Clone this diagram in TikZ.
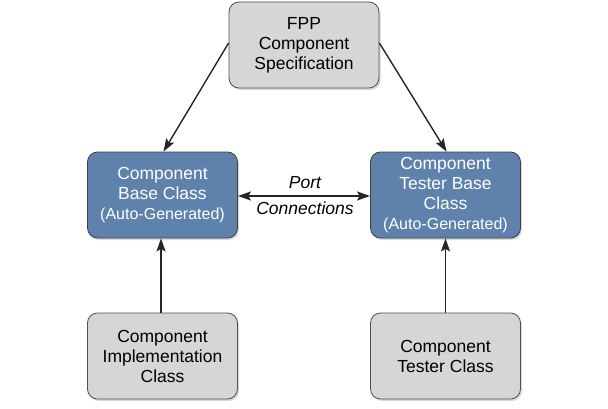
\documentclass[tikz,border=0pt]{standalone}
\usepackage{fontspec}
\setmainfont{Liberation Sans}
\usetikzlibrary{arrows.meta,shadows}
\definecolor{boxgray}{HTML}{D6D6D6}
\definecolor{boxblue}{HTML}{5F82AD}
\definecolor{edgegray}{HTML}{505050}
\tikzset{
  basebox/.style={rounded corners=10pt, draw=edgegray, line width=0.8pt,
    minimum width=150pt, minimum height=86pt, align=center,
    font=\fontsize{17.5}{20}\selectfont,
    drop shadow={opacity=0.3, shadow xshift=1.5pt, shadow yshift=-2pt}},
  graybox/.style={basebox, fill=boxgray, text=black},
  bluebox/.style={basebox, fill=boxblue, text=white, draw=black!75},
  tip/.style={Stealth[length=13pt,width=9pt,inset=2.5pt]},
  conn/.style={line width=1.4pt, draw=black!85, -{Stealth[length=13pt,width=9pt,inset=2.5pt]}},
  lbl/.style={font=\fontsize{17.5}{19.5}\selectfont\itshape, inner sep=0pt}
}
\begin{document}
\begin{tikzpicture}[x=1pt,y=1pt]
\useasboundingbox (0,0) rectangle (608,408);
\node[graybox] (fpp) at (304,363) {FPP\\Component\\Specification};
\node[bluebox] (cb) at (162.5,213) {Component\\Base Class\\{\fontsize{16}{19}\selectfont (Auto-Generated)}};
\node[bluebox] (ctb) at (445.5,213) {Component\\Tester Base\\Class\\{\fontsize{16}{19}\selectfont (Auto-Generated)}};
\node[graybox] (ci) at (162.5,52) {Component\\Implementation\\Class};
\node[graybox] (ct) at (445.5,52) {Component\\Tester Class};
\coordinate (fppl) at ([yshift=2pt]fpp.west);
\coordinate (fppr) at ([yshift=2pt]fpp.east);
\draw[conn] (fppl) -- ([xshift=1pt]cb.north);
\draw[conn] (fppr) -- ([xshift=1pt]ctb.north);
\draw[conn] ([xshift=-1.5pt]ci.north) -- ([xshift=-1.5pt]cb.south);
\draw[conn] (ct.north) -- (ctb.south);
\draw[conn, {Stealth[length=13pt,width=9pt,inset=2.5pt]}-{Stealth[length=13pt,width=9pt,inset=2.5pt]}] ([yshift=-1pt]cb.east) -- ([yshift=-1pt]ctb.west);
\node[lbl] (port) at (305,225) {Port};
\node[lbl] (pc) at (305,200) {Connections};
\end{tikzpicture}
\end{document}
